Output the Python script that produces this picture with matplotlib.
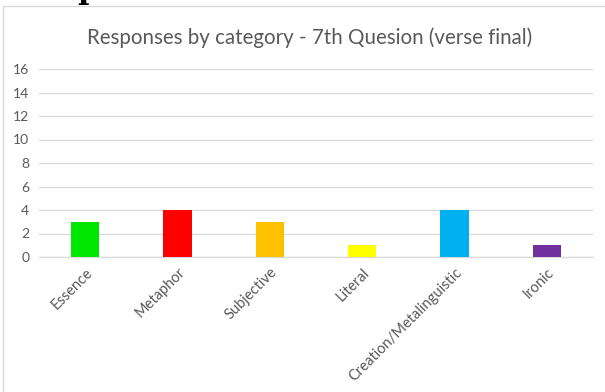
import matplotlib.pyplot as plt
from matplotlib.patches import Rectangle

categories = ['Essence', 'Metaphor', 'Subjective', 'Literal', 'Creation/Metalinguistic', 'Ironic']
responses = [3, 4, 3, 1, 4, 1]
bar_colors = ['#00e600', '#ff0000', '#ffc000', '#ffff00', '#00b0f0', '#7030a0']
y_ticks = [0, 2, 4, 6, 8, 10, 12, 14, 16]

text_color = '#595959'
grid_color = '#d9d9d9'
plt.rcParams['font.family'] = ['Lato', 'DejaVu Sans']

fig = plt.figure(figsize=(6.05, 3.92), dpi=100)

# chart frame (cut off at right and bottom like the screenshot)
fig.patches.append(Rectangle((3 / 605, -0.05), 1.0, 1 - 6 / 392 + 0.05,
                             transform=fig.transFigure, fill=False,
                             edgecolor='#d9d9d9', linewidth=1.0))
# fragment of page text above the chart
fig.text(88 / 605, 1.006, 'p', fontsize=22, fontweight='bold',
         family='DejaVu Serif', ha='center', va='baseline', color='black')

ax = fig.add_axes([39 / 605, 1 - 257 / 392, (593 - 39) / 605, (257 - 69) / 392])
x = range(len(categories))
ax.bar(x, responses, width=0.31, color=bar_colors, zorder=3)

ax.set_ylim(0, 16)
ax.set_xlim(-0.5, len(categories) - 0.5)
ax.set_yticks(y_ticks)
ax.set_yticklabels([str(t) for t in y_ticks], fontsize=10, color=text_color)
ax.set_xticks(list(x))
ax.set_xticklabels(categories, rotation=45, ha='right', rotation_mode='anchor',
                   fontsize=10.5, color=text_color)
ax.tick_params(axis='both', length=0, pad=7)
ax.tick_params(axis='x', pad=6)

ax.grid(axis='y', color=grid_color, linewidth=0.9, zorder=0)
for side in ['top', 'right', 'left']:
    ax.spines[side].set_visible(False)
ax.spines['bottom'].set_color(grid_color)
ax.spines['bottom'].set_linewidth(0.9)

fig.text(310 / 605, 1 - 38 / 392, 'Responses by category - 7th Quesion (verse final)',
         fontsize=14.8, color=text_color, ha='center', va='center')

fig.savefig('out.png', dpi=100)
